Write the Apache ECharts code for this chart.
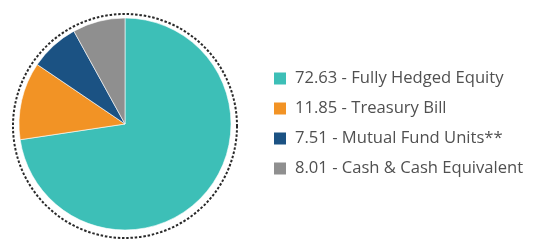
<!DOCTYPE html>
<html><head><meta charset="utf-8">
<script src="https://cdn.jsdelivr.net/npm/echarts@6/dist/echarts.min.js"></script>
<style>html,body{margin:0;padding:0;background:#fff;}#c{width:547px;height:244px;}</style>
</head><body><div id="c"></div>
<script>
const categories = ['Fully Hedged Equity', 'Treasury Bill', 'Mutual Fund Units**', 'Cash & Cash Equivalent'];
const values = [72.63, 11.85, 7.51, 8.01];
const valueLabels = ['72.63', '11.85', '7.51', '8.01'];
const colors = ['#3dbfb7', '#f29325', '#1b5283', '#8f8f8f'];

const chart = echarts.init(document.getElementById('c'), null, {renderer: 'canvas'});
const names = categories.map((c, i) => valueLabels[i] + ' - ' + c);
chart.setOption({
  animation: false,
  color: colors,
  legend: {
    orient: 'vertical',
    left: 272, top: 70, padding: 0,
    itemWidth: 14, itemHeight: 14, itemGap: 13,
    icon: 'rect',
    textStyle: {fontFamily: 'Open Sans', fontSize: 16.6, color: '#505050', lineHeight: 14, height: 14, padding: [0,0,0,3]},
    data: names
  },
  graphic: [{
    type: 'circle', shape: {cx: 125, cy: 126, r: 112},
    style: {fill: 'none', stroke: '#2a2a2a', lineWidth: 2, lineDash: [2.5, 1.8]}
  }],
  series: [{
    type: 'pie',
    center: [125, 124], radius: 106,
    startAngle: 90, clockwise: true,
    label: {show: false}, labelLine: {show: false},
    itemStyle: {borderColor: '#fff', borderWidth: 0.6},
    data: names.map((n, i) => ({name: n, value: values[i]}))
  }]
});
</script></body></html>
